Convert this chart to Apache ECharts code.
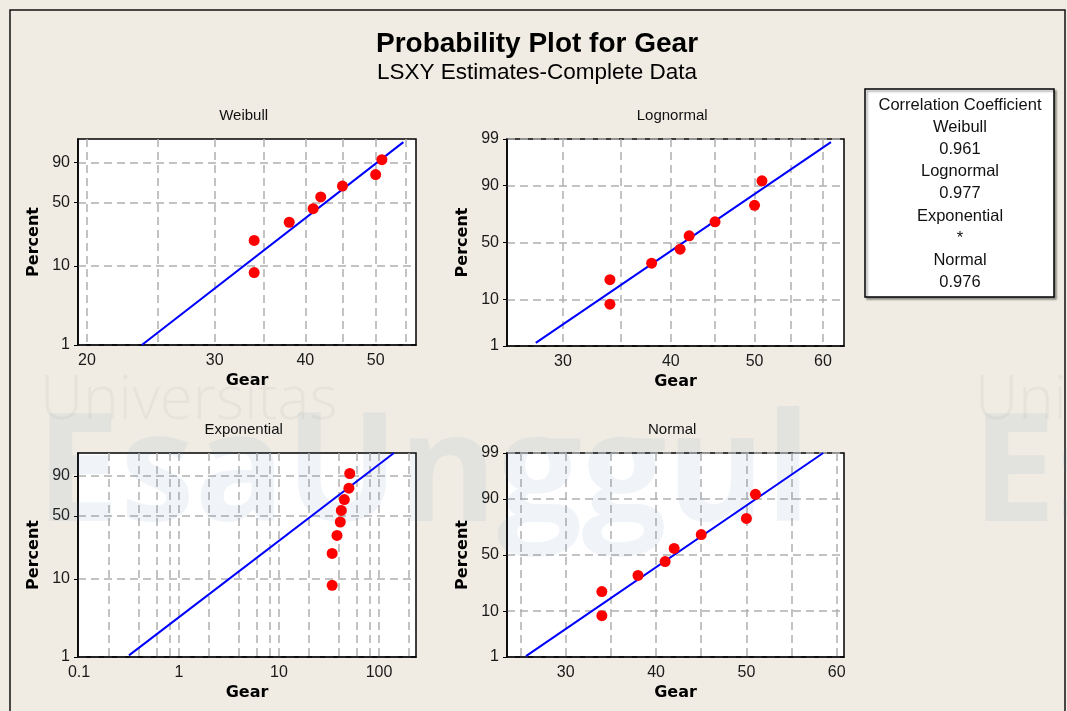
<!DOCTYPE html>
<html>
<head>
<meta charset="utf-8">
<title>Probability Plot for Gear</title>
<script src="https://cdn.jsdelivr.net/npm/echarts@6.0.0/dist/echarts.min.js"></script>
<style>
  html, body { margin: 0; padding: 0; background: #f0ece3; }
  #chart { width: 1067px; height: 711px; }
</style>
</head>
<body>
<div id="chart"></div>
<script>
// observed gear values and their median-rank plotting positions (%)
const gear = [34, 34, 38, 41, 42, 45, 50, 51];
const percent = [8.3, 20.2, 32.1, 44.0, 56.0, 67.9, 79.8, 91.7];

// fitted LSXY lines as [gear, percent] endpoints
const weibullLine = [[23.8, 1.0], [54.6, 98.5]];
const lognormalLine = [[27.9, 1.2], [61.3, 98.8]];
const exponentialLine = [[0.316, 1.05], [141, 99]];
const normalLine = [[25.6, 1.05], [58.5, 99]];

// axis labels and gridline values
const pctLabelsShort = [1, 10, 50, 90];
const pctLabelsLong = [1, 10, 50, 90, 99];
const weibullXLabels = [20, 30, 40, 50];
const weibullXGrid = [20, 25, 30, 35, 40, 45, 50, 55];
const lognormalXLabels = [30, 40, 50, 60];
const lognormalXGrid = [30, 35, 40, 45, 50, 55, 60];
const expXLabels = [0.1, 1, 10, 100];
const expXGrid = [0.2, 0.4, 0.6, 0.8, 1, 2, 4, 6, 8, 10, 20, 40, 60, 80, 100, 200];
const normalXLabels = [30, 40, 50, 60];
const normalXGrid = [25, 30, 35, 40, 45, 50, 55, 60];

const corrLines = ['Correlation Coefficient', 'Weibull', '0.961', 'Lognormal', '0.977',
  'Exponential', '*', 'Normal', '0.976'];

// probability scale transforms
function qnorm(p) {
  const a = [-3.969683028665376e+01, 2.209460984245205e+02, -2.759285104469687e+02, 1.383577518672690e+02, -3.066479806614716e+01, 2.506628277459239e+00];
  const b = [-5.447609879822406e+01, 1.615858368580409e+02, -1.556989798598866e+02, 6.680131188771972e+01, -1.328068155288572e+01];
  const c = [-7.784894002430293e-03, -3.223964580411365e-01, -2.400758277161838e+00, -2.549732539343734e+00, 4.374664141464968e+00, 2.938163982698783e+00];
  const d = [7.784695709041462e-03, 3.224671290700398e-01, 2.445134137142996e+00, 3.754408661907416e+00];
  const pl = 0.02425;
  if (p < pl) {
    const q = Math.sqrt(-2 * Math.log(p));
    return (((((c[0] * q + c[1]) * q + c[2]) * q + c[3]) * q + c[4]) * q + c[5]) / ((((d[0] * q + d[1]) * q + d[2]) * q + d[3]) * q + 1);
  }
  if (p > 1 - pl) {
    const q = Math.sqrt(-2 * Math.log(1 - p));
    return -(((((c[0] * q + c[1]) * q + c[2]) * q + c[3]) * q + c[4]) * q + c[5]) / ((((d[0] * q + d[1]) * q + d[2]) * q + d[3]) * q + 1);
  }
  const q = p - 0.5, r = q * q;
  return (((((a[0] * r + a[1]) * r + a[2]) * r + a[3]) * r + a[4]) * r + a[5]) * q / (((((b[0] * r + b[1]) * r + b[2]) * r + b[3]) * r + b[4]) * r + 1);
}
const weib = pct => Math.log(-Math.log(1 - pct / 100));
const znorm = pct => qnorm(pct / 100);
const lin = v => v;

const FONT = '"Liberation Sans", Arial, sans-serif';
const BOLD = '"DejaVu Sans", Verdana, sans-serif';

function nearestLabel(list, f) {
  return v => {
    let best = list[0];
    list.forEach(l => { if (Math.abs(f(l) - v) < Math.abs(f(best) - v)) best = l; });
    return String(best);
  };
}

const panels = [
  { title: 'Weibull', grid: { left: 78, top: 139, width: 338, height: 206 },
    xf: Math.log, xMin: 2.9671, xMax: 4.0401, xLabels: weibullXLabels, xGrid: weibullXGrid,
    yf: weib, yLabels: pctLabelsShort, fit: weibullLine },
  { title: 'Lognormal', grid: { left: 507, top: 139, width: 337, height: 207 },
    xf: Math.log, xMin: 3.2519, xMax: 4.1506, xLabels: lognormalXLabels, xGrid: lognormalXGrid,
    yf: znorm, yLabels: pctLabelsLong, fit: lognormalLine },
  { title: 'Exponential', grid: { left: 78, top: 453, width: 338, height: 204 },
    xf: Math.log10, xMin: -1.01, xMax: 2.37, xLabels: expXLabels, xGrid: expXGrid,
    yf: weib, yLabels: pctLabelsShort, fit: exponentialLine },
  { title: 'Normal', grid: { left: 507, top: 453, width: 337, height: 204 },
    xf: lin, xMin: 23.5, xMax: 60.8, xLabels: normalXLabels, xGrid: normalXGrid,
    yf: znorm, yLabels: pctLabelsLong, fit: normalLine }
];

const grids = [], xAxes = [], yAxes = [], series = [], graphics = [];

panels.forEach((p, i) => {
  grids.push(Object.assign({
    show: true, backgroundColor: '#fff', borderColor: '#000', borderWidth: 1.5
  }, p.grid));

  xAxes.push({
    gridIndex: i, type: 'value', min: p.xMin, max: p.xMax,
    name: 'Gear', nameLocation: 'middle', nameGap: 28,
    nameTextStyle: { fontFamily: BOLD, fontWeight: 'bold', fontSize: 16, color: '#000' },
    axisLine: { show: true, onZero: false, lineStyle: { color: '#000', width: 1.5 } },
    axisTick: { show: false, customValues: p.xGrid.map(p.xf) },
    axisLabel: {
      customValues: p.xLabels.map(p.xf), margin: 8,
      fontFamily: FONT, fontSize: 16, color: '#1a1a1a',
      formatter: nearestLabel(p.xLabels, p.xf)
    },
    splitLine: { show: true, lineStyle: { color: '#b0b0b0', type: [8, 5], width: 1.5 } }
  });

  const ymin = p.yf(1), ymax = p.yf(99);
  yAxes.push({
    gridIndex: i, type: 'value', min: ymin, max: ymax,
    name: 'Percent', nameLocation: 'middle', nameGap: 36,
    nameTextStyle: { fontFamily: BOLD, fontWeight: 'bold', fontSize: 16, color: '#000' },
    axisLine: { show: true, onZero: false, lineStyle: { color: '#000', width: 1.5 } },
    axisTick: { show: true, length: 4, customValues: p.yLabels.map(p.yf), lineStyle: { color: '#000' } },
    axisLabel: {
      customValues: p.yLabels.map(p.yf), margin: 8,
      fontFamily: FONT, fontSize: 16, color: '#1a1a1a',
      formatter: nearestLabel(p.yLabels, p.yf)
    },
    splitLine: { show: true, lineStyle: { color: '#b0b0b0', type: [8, 5], width: 1.5 } }
  });

  series.push({
    type: 'line', xAxisIndex: i, yAxisIndex: i, symbol: 'none', silent: true,
    lineStyle: { color: '#0000ff', width: 2 },
    data: p.fit.map(d => [p.xf(d[0]), p.yf(d[1])]), z: 3
  });
  series.push({
    type: 'scatter', xAxisIndex: i, yAxisIndex: i, symbolSize: 11,
    itemStyle: { color: '#ff0000', opacity: 1 },
    data: gear.map((g, k) => [p.xf(g), p.yf(percent[k])]), z: 4
  });

  graphics.push({
    type: 'text', x: p.grid.left + p.grid.width * 0.49, y: p.grid.top - 23,
    style: { text: p.title, font: '15px ' + FONT, fill: '#111',
      align: 'center', verticalAlign: 'middle', textAlign: 'center', textVerticalAlign: 'middle' }
  });
});

// faint background watermark
const wm = [
  { t: 'Universitas', x: 40, y: 402, f: '300 60px "Open Sans"', c: 'rgba(110,110,110,0.07)' },
  { t: 'Uni', x: 975, y: 402, f: '300 60px "Open Sans"', c: 'rgba(110,110,110,0.07)' },
  { t: 'EsaUnggul', x: 36, y: 478, f: 'bold 150px "Open Sans"', c: 'rgba(90,130,180,0.09)' },
  { t: 'Es', x: 972, y: 478, f: 'bold 150px "Open Sans"', c: 'rgba(90,130,180,0.09)' }
];
wm.forEach(w => graphics.push({
  type: 'text', x: w.x, y: w.y, silent: true, z: 1,
  style: { text: w.t, font: w.f, fill: w.c,
    align: 'left', verticalAlign: 'middle', textAlign: 'left', textVerticalAlign: 'middle' }
}));

// outer frame, titles and correlation box
graphics.push({
  type: 'rect', shape: { x: 10, y: 10, width: 1055, height: 730 },
  style: { fill: 'none', stroke: '#111', lineWidth: 1.5 }, z: -1
});
graphics.push({
  type: 'text', x: 537, y: 44,
  style: { text: 'Probability Plot for Gear', font: 'bold 28px ' + FONT, fill: '#000',
    align: 'center', verticalAlign: 'middle', textAlign: 'center', textVerticalAlign: 'middle' }
});
graphics.push({
  type: 'text', x: 537, y: 73,
  style: { text: 'LSXY Estimates-Complete Data', font: '22.5px ' + FONT, fill: '#000',
    align: 'center', verticalAlign: 'middle', textAlign: 'center', textVerticalAlign: 'middle' }
});
graphics.push({
  type: 'rect', shape: { x: 865, y: 89, width: 189, height: 208 }, z: 2,
  style: { fill: '#fff', stroke: '#000', lineWidth: 1.5,
    shadowColor: 'rgba(0,0,0,0.35)', shadowOffsetX: 2, shadowOffsetY: 2, shadowBlur: 2 }
});
corrLines.forEach((t, k) => {
  graphics.push({
    type: 'text', x: 960, y: 105 + k * 22.2, z: 3,
    style: { text: t, font: '16.5px ' + FONT, fill: '#111',
      align: 'center', verticalAlign: 'middle', textAlign: 'center', textVerticalAlign: 'middle' }
  });
});

const chart = echarts.init(document.getElementById('chart'));
chart.setOption({
  backgroundColor: '#f0ece3',
  animation: false,
  grid: grids,
  xAxis: xAxes,
  yAxis: yAxes,
  series: series,
  graphic: graphics
});
</script>
</body>
</html>
